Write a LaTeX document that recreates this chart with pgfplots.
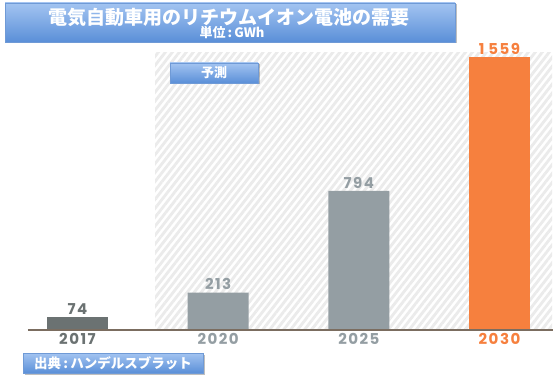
\documentclass[border=0pt]{standalone}
\usepackage{fontspec}
\usepackage{pgfplots}
\pgfplotsset{compat=1.18}
\usetikzlibrary{patterns.meta}
\setmainfont{Poppins}
\newfontfamily\numfont{Poppins}[LetterSpace=10]
\newfontfamily\jp{Noto Sans CJK JP}
\definecolor{dgray}{HTML}{6B7272}
\definecolor{lgray}{HTML}{949EA3}
\definecolor{orng}{HTML}{F6803E}
\definecolor{axbrown}{HTML}{7B6D60}
\definecolor{btop}{HTML}{A3C4F1}
\definecolor{bbot}{HTML}{5A8FD8}
\definecolor{bdraw}{HTML}{6F9AD6}
\definecolor{hatch}{HTML}{EBEBEB}
\newcommand{\numf}{\numfont\fontsize{15}{16}\selectfont\bfseries}
\begin{document}
\begin{tikzpicture}[x=1pt,y=1pt]
\useasboundingbox (0,0) rectangle (559,380);
\fill[white] (0,0) rectangle (559,380);
\begin{axis}[
  at={(77.5pt,50pt)}, anchor=origin,
  scale only axis, width=525pt, height=275pt,
  xmin=-0.352, xmax=3.380, ymin=0, ymax=1570,
  axis on top,
  axis y line=none,
  axis x line*=bottom,
  x axis line style={-, color=axbrown, line width=1.3pt},
  xtick={0,1,2,3},
  xticklabels={\textcolor{dgray}{2017},\textcolor{lgray}{2020},\textcolor{lgray}{2025},\textcolor{orng}{2030}},
  xticklabel style={font=\numf, inner sep=2.5pt, yshift=-1pt},
  major tick length=0pt,
  clip=false,
  point meta=explicit symbolic,
]
\fill[pattern={Lines[angle=52, distance=5.5pt, line width=2.8pt]}, pattern color=hatch]
  (axis cs:0.551,0) rectangle (axis cs:3.373,1585);
\addplot[ybar, bar width=61pt, bar shift=0pt, fill=dgray, draw=none,
  nodes near coords, every node near coord/.append style={font=\numf, text=dgray, inner sep=2.5pt}]
  coordinates {(0,74) [74]};
\addplot[ybar, bar width=61pt, bar shift=0pt, fill=lgray, draw=none,
  nodes near coords, every node near coord/.append style={font=\numf, text=lgray, inner sep=2.5pt}]
  coordinates {(1,213) [213] (2,794) [794]};
\addplot[ybar, bar width=61pt, bar shift=0pt, fill=orng, draw=none,
  nodes near coords, every node near coord/.append style={font=\numf, text=orng, inner sep=2.5pt}]
  coordinates {(3,1559) [1\hspace{4pt}559]};
\end{axis}
% title box
\fill[black, opacity=0.25] (6.5,336.5) rectangle (456.5,375.5);
\shade[top color=btop, bottom color=bbot, draw=bdraw] (5,338) rectangle (455,377);
\node[text=white, font=\jp\fontsize{19}{20}\selectfont\bfseries] at (229,363) {電気自動車用のリチウムイオン電池の需要};
\node[text=white, font=\jp\fontsize{13}{14}\selectfont\bfseries] at (232,347.5) {単位\,:\,GWh};
% forecast box
\fill[black, opacity=0.25] (171.5,295.5) rectangle (259.5,315.5);
\shade[top color=btop, bottom color=bbot, draw=bdraw] (170,297) rectangle (258,317);
\node[text=white, font=\jp\fontsize{13}{14}\selectfont\bfseries] at (214,307) {予測};
% source box
\fill[black, opacity=0.25] (24.5,5.5) rectangle (204.5,25.5);
\shade[top color=btop, bottom color=bbot, draw=bdraw] (23,7) rectangle (203,27);
\node[text=white, font=\jp\fontsize{13.5}{14}\selectfont\bfseries] at (113,17) {出典\,:\,ハンデルスブラット};
\end{tikzpicture}
\end{document}
